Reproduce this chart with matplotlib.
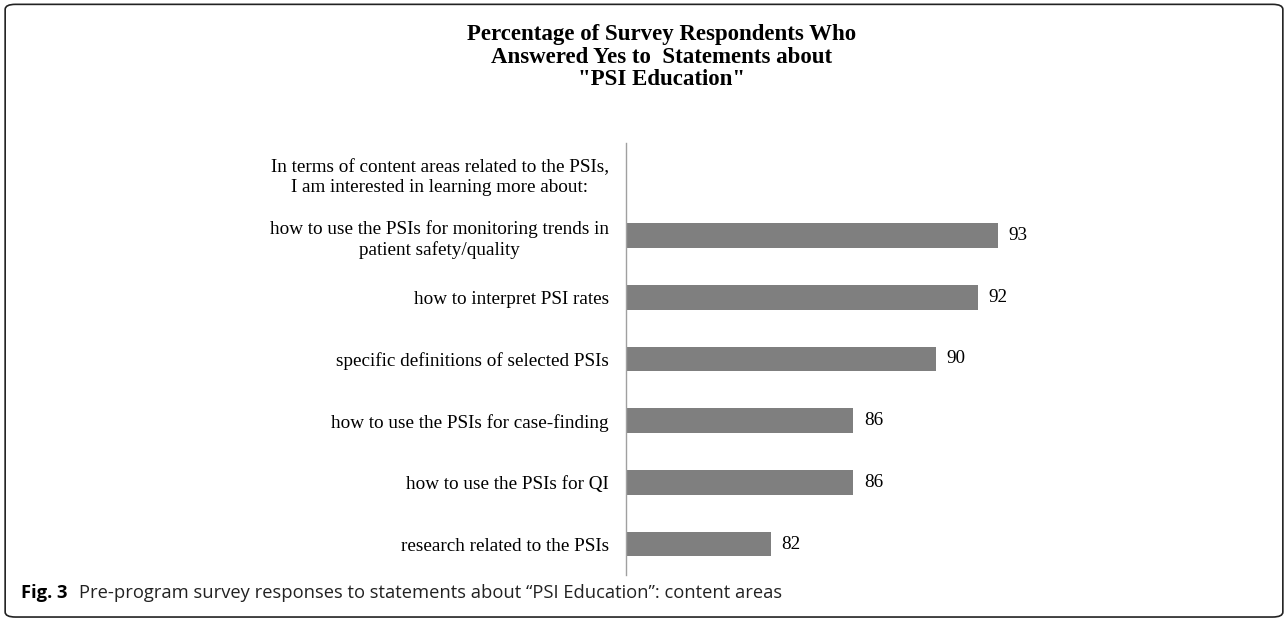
import numpy as np
import matplotlib.pyplot as plt
from matplotlib.patches import FancyBboxPatch

categories = [
    "In terms of content areas related to the PSIs,\nI am interested in learning more about:",
    "how to use the PSIs for monitoring trends in\npatient safety/quality",
    "how to interpret PSI rates",
    "specific definitions of selected PSIs",
    "how to use the PSIs for case-finding",
    "how to use the PSIs for QI",
    "research related to the PSIs",
]
values = [np.nan, 93, 92, 90, 86, 86, 82]

title = 'Percentage of Survey Respondents Who\nAnswered Yes to  Statements about\n"PSI Education"'

serif = "Liberation Serif"

fig = plt.figure(figsize=(12.88, 6.22), dpi=100)
ax = fig.add_axes([0.4857, 0.0756, 0.402, 0.6945])

y = np.arange(len(categories))
ax.barh(y, values, height=0.4, color="#7f7f7f", left=0)
ax.set_xlim(75, 100)
ax.set_ylim(len(categories) - 0.5, -0.5)

for yi, v in zip(y, values):
    if not np.isnan(v):
        ax.text(v + 0.5, yi, f"{v:.0f}", va="center", ha="left",
                fontsize=13.75, family=serif)

ax.set_yticks(y)
ax.set_yticklabels(categories, family=serif, fontsize=13.75)
for lab in ax.get_yticklabels():
    lab.set_multialignment("center")
    lab.set_linespacing(1.28)
ax.tick_params(axis="y", length=0, pad=12)
ax.set_xticks([])
for s in ["top", "right", "bottom"]:
    ax.spines[s].set_visible(False)
ax.spines["left"].set_color("#a0a0a0")
ax.spines["left"].set_linewidth(1)

fig.text(0.514, 0.961, title, ha="center", va="top", fontsize=16.5,
         fontweight="bold", family=serif, linespacing=1.1)

fig.text(0.016, 0.046, "Fig. 3", ha="left", va="center", fontsize=13.2,
         fontweight="bold", family="Open Sans")
fig.text(0.061, 0.046, "Pre-program survey responses to statements about \u201cPSI Education\u201d: content areas",
         ha="left", va="center", fontsize=13.2, family="Open Sans", color="#222222")

border = FancyBboxPatch((0.004, 0.008), 0.992, 0.985,
                        boxstyle="round,pad=0,rounding_size=0.008",
                        transform=fig.transFigure, fill=False,
                        edgecolor="#222222", linewidth=1.2)
fig.patches.append(border)

fig.savefig("out.png", dpi=100)
